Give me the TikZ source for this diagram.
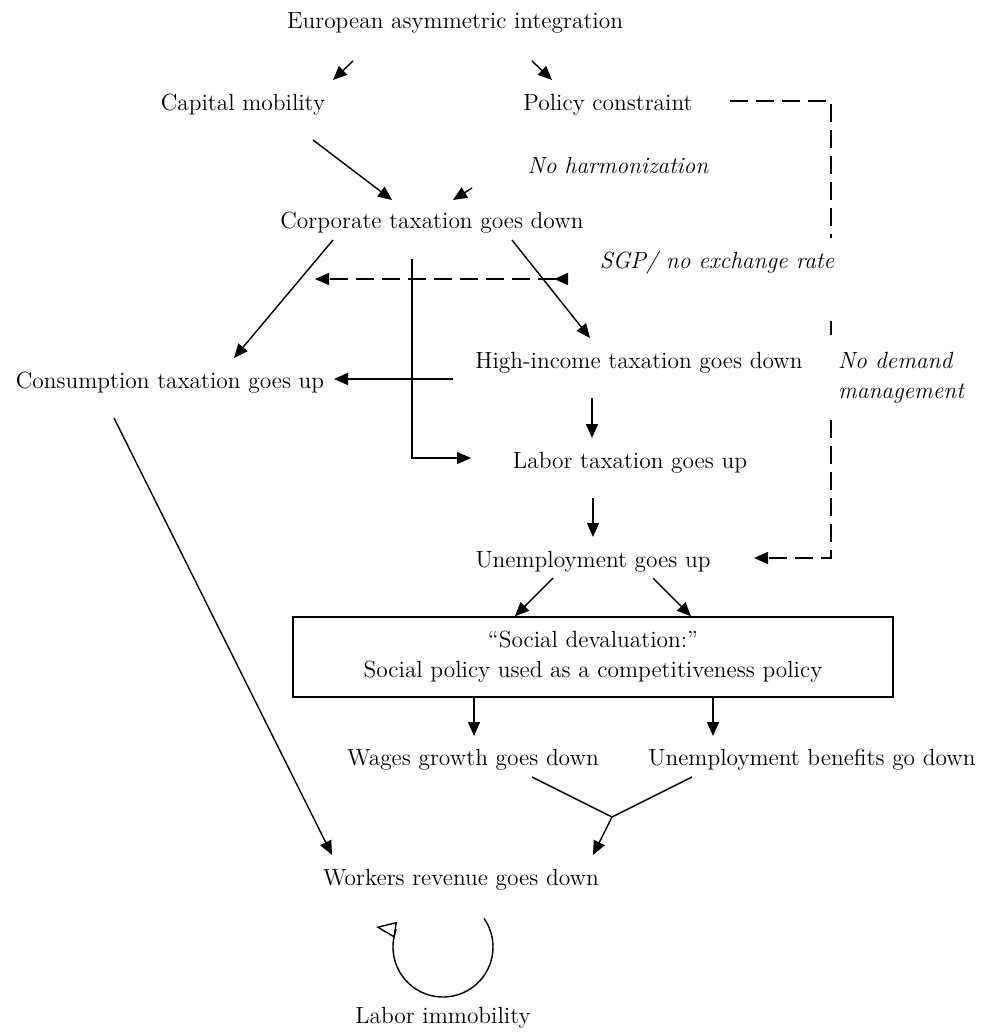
\documentclass[tikz,border=0pt]{standalone}
\usetikzlibrary{arrows.meta,calc}
\tikzset{box/.style={draw,line width=0.7pt,minimum width=300pt,minimum height=40pt,align=center},
	note/.style={font=\fontsize{11.7}{15}\selectfont\itshape},
	dashlink/.style={draw,line width=0.7pt,dash pattern=on 9pt off 4pt},
	link/.style={draw,line width=0.7pt}}
\begin{document}
\begin{tikzpicture}[x=0.5pt,y=-0.5pt,>={Triangle[length=7pt,width=6pt]}]
		\useasboundingbox (0,0) rectangle (987,1032);
		\begin{scope}[every node/.style={font=\fontsize{11.7}{15}\selectfont,inner sep=0pt}]
			\node (euro) at (455,23) {European asymmetric integration};
			\node (capital) at (243,105) {Capital mobility};
			\node (policy) at (608,105) {Policy constraint};
			\node[note] (harmon) at (618,165) {No harmonization};
			\node (corp) at (432,223) {Corporate taxation goes down};
			\node[note] (sgp) at (717,263) {SGP/ no exchange rate};
			\node (high) at (639,363) {High-income taxation goes down};
			\node (consum) at (170,383) {Consumption taxation goes up};
			\node[note,align=left] (demand) at (901,378) {No demand\\management};
			\node (labor) at (630,463) {Labor taxation goes up};
			\node (unemp) at (593,562) {Unemployment goes up};
			\node[box] (social) at (593,657) {“Social devaluation:”\\Social policy used as a competitiveness policy};
			\node (wages) at (473,760) {Wages growth goes down};
			\node (benef) at (812,760) {Unemployment benefits go down};
			\node (workers) at (461,880) {Workers revenue goes down};
			\node (immob) at (443,1018) {Labor immobility};
		\end{scope}
		\coordinate (fork) at (612,817);
		\coordinate (loop) at (443,947);
		\begin{scope}[every edge/.style={link}]
			\path [->] ($(euro)+(-102,38)$) edge ($(capital)+(90,-25)$);
			\path [->] ($(euro)+(77,38)$) edge ($(policy)+(-56,-25)$);
			\path [->] ($(capital)+(70,35)$) edge ($(corp)+(-40,-23)$);
			\path [->] ($(harmon)+(-146,23)$) edge ($(corp)+(21,-23)$);
			\path [->] ($(corp)+(-99,17)$) edge ($(consum)+(64,-25)$);
			\path [->] ($(corp)+(80,17)$) edge ($(high)+(-49,-25)$);
			\path [->] ($(high)+(-186,16)$) edge ($(consum)+(164,-4)$);
			\path [->] ($(high)+(-47,35)$) edge ($(labor)+(-38,-25)$);
			\path [->] ($(labor)+(-37,35)$) edge ($(unemp)+(0,-25)$);
			\path [->] ($(unemp)+(-40,16)$) edge ([xshift=-39pt]social.north);
			\path [->] ($(unemp)+(60,16)$) edge ([xshift=49pt]social.north);
			\path [->] ([xshift=-59.5pt]social.south) edge ($(wages)+(1,-24)$);
			\path [->] ([xshift=60pt]social.south) edge ($(benef)+(-99,-24)$);
			\path [->] ($(consum)+(-56,35)$) edge ($(workers)+(-129,-25)$);
			\path [->] (fork) edge ($(workers)+(132,-25)$);
		\end{scope}
		\draw[link,->] ($(corp)+(-20,36)$) |- ($(labor)+(-159,-5)$);
		\draw[link] ($(wages)+(59,17)$) -- (fork) -- ($(benef)+(-120,17)$);
		\draw[dashlink] ($(policy)+(122,-4)$) -| ($(sgp)+(114,-25)$);
		\draw[dashlink] ($(sgp)+(114,58)$) -- ($(demand)+(-70,-43)$);
		\draw[dashlink,->] ($(demand)+(-70,42)$) |- ($(unemp)+(161,-4)$);
		\draw[dashlink,{Triangle[length=7pt,width=6pt,reversed]}-{Triangle[length=7pt,width=6pt]}] ($(sgp)+(-149,16)$) -- ($(corp)+(-117,56)$);
		\draw[link,-{Triangle[open,length=10pt,width=8pt]}] ($(loop)+(-35:50)$) arc[start angle=-35,end angle=200,radius=50] -- ++(-20,-3);
	\end{tikzpicture}
\end{document}
